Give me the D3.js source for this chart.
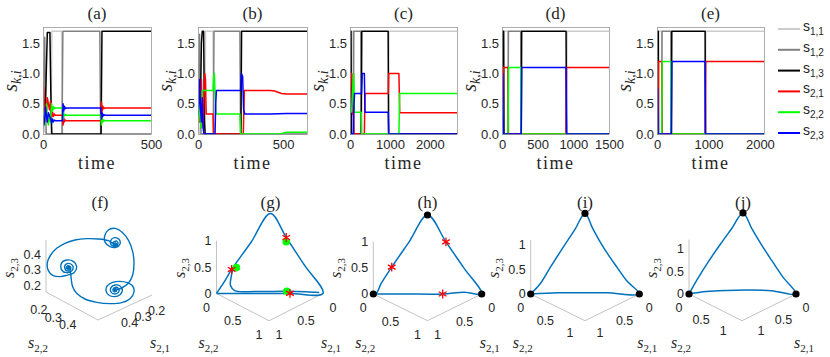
<!DOCTYPE html>
<html>
<head>
<meta charset="utf-8">
<script src="https://cdn.jsdelivr.net/npm/d3@7/dist/d3.min.js"></script>
<style>
  body { margin: 0; background: #fff; }
  svg { display: block; }
  .sans { font-family: "Liberation Sans", Arimo, Arial, sans-serif; }
  .serif { font-family: "Liberation Serif", Tinos, "DejaVu Serif", serif; }
</style>
</head>
<body>
<div id="chart"></div>
<script>
// ---------- top row (a)-(e): [time, value] ----------
const a_s11 = [[0,0.35],[6,0.1],[12,0],[37,0],[41,1.7],[86,1.7],[90,0],[500,0]];
const a_s12 = [[0,0.3],[4,1.2],[8,1.6],[11,0.5],[15,0],[88,0],[92,1.7],[263,1.7],[267,0],[500,0]];
const a_s13 = [[0,0.25],[10,0.2],[15,1.0],[20,1.68],[32,1.68],[38,0.3],[41,0],[269,0],[273,1.7],[500,1.7]];
const a_s21 = [[0,0.87],[4,0.7],[8,0.35],[12,0.2],[16,0.35],[20,0.6],[25,0.5],[30,0.4],[35,0.55],[40,0.28],[44,0.36],[48,0.29],[52,0.33],[58,0.31],[90,0.31],[93,0.15],[96,0.27],[99,0.2],[103,0.23],[108,0.22],[268,0.22],[271,0.53],[274,0.38],[277,0.46],[281,0.42],[286,0.43],[500,0.43]];
const a_s22 = [[0,0.45],[4,0.3],[8,0.15],[12,0.4],[16,0.5],[20,0.25],[25,0.15],[30,0.3],[35,0.2],[40,0.5],[44,0.38],[48,0.45],[52,0.42],[58,0.43],[90,0.43],[93,0.25],[96,0.35],[99,0.3],[103,0.32],[108,0.31],[268,0.31],[271,0.15],[274,0.27],[277,0.2],[281,0.23],[286,0.22],[500,0.22]];
const a_s23 = [[0,0.3],[4,0.15],[8,0.25],[12,0.45],[16,0.3],[20,0.2],[25,0.35],[30,0.3],[35,0.25],[40,0.18],[44,0.25],[48,0.2],[52,0.23],[58,0.22],[90,0.22],[93,0.5],[96,0.38],[99,0.46],[103,0.42],[108,0.43],[268,0.43],[271,0.25],[274,0.35],[277,0.29],[281,0.32],[286,0.31],[500,0.31]];

const b_s11 = [[0,0.3],[8,0.05],[12,0],[40,0],[44,1.7],[88,1.7],[92,0],[640,0]];
const b_s12 = [[0,0.3],[5,1.2],[9,1.65],[14,0.3],[18,0],[90,0],[94,1.7],[246,1.7],[250,0],[640,0]];
const b_s13 = [[0,0.3],[14,0.4],[20,1.5],[25,1.7],[33,1.7],[38,0.2],[42,0],[252,0],[256,1.7],[640,1.7]];
const b_s21 = [[0,0.85],[5,0.6],[10,0.2],[15,0.5],[20,0.9],[25,0.3],[30,0.1],[35,0.6],[40,1.0],[44,0.9],[48,0.33],[88,0.33],[92,0],[266,0],[272,0.72],[424,0.72],[450,0.71],[490,0.67],[522,0.66],[640,0.66]];
const b_s22 = [[0,0.4],[5,0.2],[10,0.7],[15,0.3],[20,0.1],[25,0.72],[88,0.72],[92,0.95],[96,1.0],[101,0.6],[106,0.33],[246,0.33],[250,0],[480,0],[520,0.03],[640,0.03]];
const b_s23 = [[0,0.3],[5,0.5],[10,0.9],[15,0.4],[20,0.2],[25,0.6],[30,0.1],[35,0],[100,0],[104,0.5],[108,0.72],[250,0.72],[255,1.0],[262,0.95],[268,0.4],[275,0.33],[424,0.33],[522,0.34],[640,0.34]];

const c_s11 = [[0,0.3],[10,0],[30,0],[40,1.7],[80,1.7],[90,0],[960,0],[975,1.7],[2680,1.7]];
const c_s12 = [[0,0.3],[5,1.6],[12,0.2],[20,0],[85,0],[95,1.7],[270,1.7],[282,0],[2680,0]];
const c_s13 = [[0,0.3],[8,1.0],[13,1.7],[25,1.7],[35,0],[282,0],[295,1.7],[955,1.7],[968,0],[2680,0]];
const c_s21 = [[0,0.8],[10,1.0],[45,1.0],[60,0.35],[85,0.3],[100,0],[360,0],[375,0.67],[958,0.67],[970,1.0],[1225,1.0],[1245,0.35],[2680,0.35]];
const c_s22 = [[0,0.35],[40,0.37],[80,0.9],[95,1.0],[110,0.36],[280,0.36],[295,0],[1225,0],[1245,0.67],[2680,0.67]];
const c_s23 = [[0,0.6],[5,0.3],[10,0],[85,0],[100,0.5],[115,0.67],[290,0.67],[305,1.0],[360,1.0],[375,0.36],[958,0.36],[970,0],[2680,0]];

const d_s11 = [[0,0.3],[8,0],[25,0],[30,1.7],[85,1.7],[90,0],[905,0],[912,1.7],[1500,1.7]];
const d_s12 = [[0,0.5],[5,1.6],[10,0.2],[15,0],[85,0],[90,1.7],[262,1.7],[268,0],[1500,0]];
const d_s13 = [[0,0.3],[12,1.7],[22,1.7],[28,0],[270,0],[276,1.7],[898,1.7],[905,0],[1500,0]];
const d_s21 = [[0,0.5],[8,0.1],[15,0.9],[22,1.1],[85,1.1],[90,0],[898,0],[905,1.1],[1500,1.1]];
const d_s22 = [[0,0.2],[8,0.5],[15,0],[85,0],[92,1.1],[262,1.1],[268,0],[1500,0]];
const d_s23 = [[0,0.35],[5,0.2],[10,1.0],[15,0.3],[20,0],[270,0],[276,1.1],[898,1.1],[905,0],[1500,0]];

const e_s11 = [[0,0.3],[8,0],[30,0],[36,1.7],[90,1.7],[96,0],[940,0],[948,1.7],[2080,1.7]];
const e_s12 = [[0,0.4],[6,1.6],[12,0.2],[18,0],[92,0],[98,1.7],[268,1.7],[275,0],[2080,0]];
const e_s13 = [[0,0.3],[14,1.7],[24,1.7],[30,0],[280,0],[288,1.7],[935,1.7],[942,0],[2080,0]];
const e_s21 = [[0,0.6],[8,0.8],[14,0.2],[20,0],[30,1.2],[92,1.2],[98,0],[940,0],[948,1.2],[2080,1.2]];
const e_s22 = [[0,0.3],[10,0.1],[20,0],[92,0],[100,1.2],[268,1.2],[275,0],[2080,0]];
const e_s23 = [[0,0.75],[6,0.3],[12,0.75],[18,0.1],[24,0],[280,0],[288,1.2],[935,1.2],[942,0],[2080,0]];

const topTitles = ["(a)", "(b)", "(c)", "(d)", "(e)"];
const timeMax = [500, 640, 2680, 1500, 2080];
const timeTicks = [[0, 500], [0, 500], [0, 1000, 2000], [0, 500, 1000, 1500], [0, 1000, 2000]];
const valueTicks = [0, 0.5, 1, 1.5];
const legendSubs = ["1,1", "1,2", "1,3", "2,1", "2,2", "2,3"];

// ---------- bottom row (f)-(j): [s21, s22, s23] ----------
// (f) trajectory digitised in the projected view plane of the panel
const f_trajectory = [[118,147],[122,160],[124,180],[128,200],[140,220],[165,237],[200,247],[240,251],[275,248],[300,236],[312,216],[308,198],[292,188],[270,184],[248,187],[232,197],[228,212],[236,225],[253,230],[270,224],[277,210],[270,198],[255,195],[243,203],[243,216],[254,222],[266,216],[265,205],[256,202],[249,208],[252,215],[259,213],[258,208],[255,210],
  [275,204],[295,190],[308,165],[312,130],[308,95],[296,62],[278,38],[255,25],[235,30],[224,48],[226,68],[240,80],[258,82],[270,72],[267,58],[253,53],[242,62],[244,75],[256,78],[264,70],[259,63],[250,67],[252,74],[258,74],[257,70],[255,73],
  [235,62],[205,57],[170,56],[135,60],[105,70],[80,85],[62,105],[52,128],[55,152],[68,166],[90,170],[110,166],[132,158],[140,140],[130,124],[110,120],[94,130],[95,150],[110,158],[126,152],[128,137],[115,130],[104,138],[108,151],[119,151],[122,142],[114,137],[109,144],[116,147],[117,142],[115,143]];
const f_centers = [[255,210],[255,73],[115,143]];

const g_cycle = [[1,0,0],[0.66,0.34,0],[0.31,0.69,0],[0,1,0],[0,0.65,0.35],[0,0.3,0.7],[0,0,1],[0.36,0,0.64],[0.72,0,0.31],[0.86,0,0.14],[1,0,0]];
const g_inner = [[0.71,0.01,0.31],[0.75,0.02,0.18],[0.79,0.05,0.07],[0.8,0.14,0.02],[0.62,0.35,0.02],[0.33,0.65,0.03],[0.15,0.83,0.02],[0.03,0.96,0.01]];
const g_stars = [[0.72,0,0.31],[0,0.3,0.7],[0.31,0.69,0]];
const g_green = [[0.66,0.03,0.33],[0.03,0.33,0.65],[0.33,0.65,0.03]];

const h_cycle = [[1,0,0],[0.7,0.3,0],[0.36,0.64,0],[0.15,0.83,0.025],[0,1,0],[0,0.67,0.33],[0,0.34,0.66],[0,0,1],[0.33,0,0.67],[0.66,0,0.34],[0.86,0,0.12],[0.95,0.02,0.02],[1,0,0]];
const h_stars = [[0.66,0,0.34],[0,0.34,0.66],[0.36,0.64,0]];
const h_vertices = [[1,0,0],[0,1,0],[0,0,1]];

const i_cycle = [[1.1,0,0],[0.8,0.25,0],[0.55,0.5,0],[0.3,0.75,0],[0,1.1,0],[0,0.85,0.14],[0,0.65,0.32],[0,0.47,0.49],[0,0.3,0.68],[0,0.15,0.88],[0,0,1.1],[0.2,0,0.88],[0.45,0,0.62],[0.7,0,0.35],[0.9,0,0.12],[1.1,0,0]];
const i_vertices = [[1.1,0,0],[0,1.1,0],[0,0,1.1]];

const j_cycle = [[1.2,0,0],[0.95,0.14,0],[0.7,0.34,0],[0.45,0.57,0],[0.2,0.85,0],[0,1.2,0],[0,0.9,0.23],[0,0.65,0.47],[0,0.42,0.7],[0,0.2,0.95],[0,0,1.2],[0.25,0,0.98],[0.5,0,0.76],[0.75,0,0.52],[1.0,0,0.25],[1.2,0,0]];
const j_vertices = [[1.2,0,0],[0,1.2,0],[0,0,1.2]];

const bottomTitles = ["(f)", "(g)", "(h)", "(i)", "(j)"];

// ---------- drawing ----------
const W = 830, H = 357;
const INK = "#262626";
const lineColors = ["#cccccc", "#808080", "#000000", "#ff0000", "#00ff00", "#0000ff"];
const TRAJ = "#0072BD";

const svg = d3.select("#chart").append("svg").attr("width", W).attr("height", H);

function mathLabel(sel, x, y, base, sub, o) {
  const t = sel.append("text")
    .attr("class", o.cls || "serif")
    .attr("x", x).attr("y", y)
    .attr("text-anchor", o.anchor || "middle")
    .attr("fill", INK);
  if (o.rotate) t.attr("transform", `rotate(-90,${x},${y})`);
  t.append("tspan").style("font-size", o.size + "px").style("font-style", o.italic ? "italic" : "normal").text(base);
  t.append("tspan").style("font-size", o.subSize + "px").attr("dy", o.subDy)
    .style("font-style", o.subItalic ? "italic" : "normal").text(sub);
  return t;
}

// top row
const topSeries = [
  [a_s11, a_s12, a_s13, a_s21, a_s22, a_s23],
  [b_s11, b_s12, b_s13, b_s21, b_s22, b_s23],
  [c_s11, c_s12, c_s13, c_s21, c_s22, c_s23],
  [d_s11, d_s12, d_s13, d_s21, d_s22, d_s23],
  [e_s11, e_s12, e_s13, e_s21, e_s22, e_s23]
];
const boxLeft = [43, 198, 350, 502, 657];
const boxWidth = [108, 109, 107, 107, 107];
const boxTop = 27, boxBottom = 134;

topSeries.forEach((series, k) => {
  const x = d3.scaleLinear().domain([0, timeMax[k]]).range([boxLeft[k], boxLeft[k] + boxWidth[k]]);
  const y = d3.scaleLinear().domain([0, 1.77]).range([boxBottom, boxTop]);
  const g = svg.append("g");

  g.append("clipPath").attr("id", "clip" + k)
    .append("rect").attr("x", boxLeft[k]).attr("y", boxTop - 1)
    .attr("width", boxWidth[k]).attr("height", boxBottom - boxTop + 2);

  const line = d3.line().x(d => x(d[0])).y(d => y(d[1]));
  series.forEach((s, i) => {
    g.append("path").datum(s)
      .attr("clip-path", `url(#clip${k})`)
      .attr("d", line)
      .attr("fill", "none")
      .attr("stroke", lineColors[i])
      .attr("stroke-width", 1.5)
      .attr("stroke-linejoin", "round");
  });

  // axes box
  g.append("rect")
    .attr("x", boxLeft[k] + 0.5).attr("y", boxTop + 0.5)
    .attr("width", boxWidth[k]).attr("height", boxBottom - boxTop)
    .attr("fill", "none").attr("stroke", "#999").attr("stroke-width", 0.8);

  const xa = g.append("g").attr("transform", `translate(0,${boxBottom})`)
    .call(d3.axisBottom(x).tickValues(timeTicks[k]).tickSize(0).tickPadding(6).tickFormat(d3.format("d")));
  const ya = g.append("g").attr("transform", `translate(${boxLeft[k]},0)`)
    .call(d3.axisLeft(y).tickValues(valueTicks).tickSize(0).tickPadding(3));
  [xa, ya].forEach(a => {
    a.attr("font-family", null).attr("font-size", null);
    a.select(".domain").remove();
    a.selectAll("text").attr("class", "sans").style("font-size", "13px").attr("fill", INK);
  });

  g.append("text").attr("class", "serif")
    .attr("x", boxLeft[k] + boxWidth[k] / 2).attr("y", 19)
    .attr("text-anchor", "middle").style("font-size", "17px")
    .attr("fill", INK).text(topTitles[k]);

  g.append("text").attr("class", "serif")
    .attr("x", boxLeft[k] + boxWidth[k] / 2).attr("y", 169)
    .attr("text-anchor", "middle").style("font-size", "18px")
    .style("letter-spacing", "1.5px").attr("fill", INK).text("time");

  mathLabel(g, boxLeft[k] - 26, 81, "s", "k,i",
    { rotate: true, size: 20, italic: true, subSize: 14, subItalic: true, subDy: 4 });
});

// legend
const legend = svg.append("g");
legendSubs.forEach((sub, i) => {
  const yy = 29 + i * 20.8;
  legend.append("line").attr("x1", 778).attr("x2", 800).attr("y1", yy).attr("y2", yy)
    .attr("stroke", lineColors[i]).attr("stroke-width", 2);
  mathLabel(legend, 803, yy + 2, "s", sub,
    { cls: "sans", anchor: "start", size: 14, italic: false, subSize: 10, subDy: 4 });
});

// bottom row: 3-D views
const bottomPanels = [
  { back: [100, 267], ex: [-54, 25], ey: [52, 28], ez: 52, lim21: [0.16, 0.56], lim22: [0.18, 0.54], lim23: [0.16, 0.49], ticks: [0.2, 0.3, 0.4], off22: [-10, 16], off21: [10, 13] },
  { back: [270.5, 266], ex: [-54, 27.4], ey: [52.5, 27.4], ez: 52.5, lim21: [0, 1], lim22: [0, 1], lim23: [0, 1], ticks: [0, 0.5, 1], off22: [-10, 14], off21: [10, 14] },
  { back: [427.5, 267.3], ex: [-54.2, 26.7], ey: [54.2, 26.7], ez: 52.3, lim21: [0, 1], lim22: [0, 1], lim23: [0, 1], ticks: [0, 0.5, 1], off22: [-10, 14], off21: [10, 14] },
  { back: [585, 267.3], ex: [-54.3, 26.7], ey: [54.3, 26.7], ez: 53.9, lim21: [0, 1.1], lim22: [0, 1.1], lim23: [0, 1.1], ticks: [0, 0.5, 1], off22: [-10, 14], off21: [10, 14] },
  { back: [743, 267.3], ex: [-54, 26.7], ey: [53, 26.7], ez: 54.4, lim21: [0, 1.2], lim22: [0, 1.2], lim23: [0, 1.2], ticks: [0, 0.5, 1], off22: [-10, 14], off21: [10, 14] }
];

function projector(p) {
  const sx = d3.scaleLinear().domain(p.lim21).range([0, 1]);
  const sy = d3.scaleLinear().domain(p.lim22).range([0, 1]);
  const sz = d3.scaleLinear().domain(p.lim23).range([0, p.ez]);
  return d => [
    p.back[0] + sx(d[0]) * p.ex[0] + sy(d[1]) * p.ey[0],
    p.back[1] + sx(d[0]) * p.ex[1] + sy(d[1]) * p.ey[1] - sz(d[2])
  ];
}

const star = d3.symbol().type(d3.symbolAsterisk).size(55);

bottomPanels.forEach((p, k) => {
  const g = svg.append("g");
  const P = projector(p);
  const [a0, a1] = p.lim21, [b0, b1] = p.lim22, [c0, c1] = p.lim23;

  // axis lines
  const leftC = P([a1, b0, c0]), frontC = P([a1, b1, c0]), rightC = P([a0, b1, c0]), topC = P([a1, b0, c1]);
  g.append("path")
    .attr("d", d3.line()([topC, leftC, frontC, rightC]))
    .attr("fill", "none").attr("stroke", "#9a9a9a").attr("stroke-width", 0.6);

  // ticks
  const tickText = (x, y, v, anchor) => g.append("text").attr("class", "sans")
    .attr("x", x).attr("y", y).attr("dy", "0.35em").attr("text-anchor", anchor)
    .style("font-size", "12.5px").attr("fill", INK).text(v);
  p.ticks.forEach(v => {
    const pz = P([a1, b0, v]);
    tickText(pz[0] - 5, pz[1], v, "end");
    const py = P([a1, v, c0]);
    tickText(py[0] + p.off22[0], py[1] + p.off22[1], v, "middle");
    const px = P([v, b1, c0]);
    tickText(px[0] + p.off21[0], px[1] + p.off21[1], v, "middle");
  });

  // axis labels
  const lab = { size: 16, italic: true, subSize: 11, subItalic: false, subDy: 4 };
  mathLabel(g, leftC[0] - 8, 348, "s", "2,2", lab);
  mathLabel(g, rightC[0] + 8, 348, "s", "2,1", lab);
  mathLabel(g, leftC[0] - 32, 268, "s", "2,3", Object.assign({ rotate: true }, lab));

  g.append("text").attr("class", "serif").attr("x", p.back[0]).attr("y", 208)
    .attr("text-anchor", "middle").style("font-size", "17px")
    .attr("fill", INK).text(bottomTitles[k]);

  const curve = d3.line().x(d => P(d)[0]).y(d => P(d)[1]).curve(d3.curveCatmullRom.alpha(0.5));
  const drawPath = (data) => g.append("path").datum(data).attr("d", curve)
    .attr("fill", "none").attr("stroke", TRAJ).attr("stroke-width", 1.5).attr("stroke-linejoin", "round");
  const drawDots = (data, color, r) => g.selectAll(null).data(data).enter().append("circle")
    .attr("cx", d => P(d)[0]).attr("cy", d => P(d)[1]).attr("r", r).attr("fill", color);
  const drawStars = (data) => g.selectAll(null).data(data).enter().append("path")
    .attr("transform", d => `translate(${P(d)[0]},${P(d)[1]})`).attr("d", star)
    .attr("fill", "none").attr("stroke", "#ff0000").attr("stroke-width", 1.3);

  if (k === 0) {
    const u = d3.scaleLinear().domain([0, 390]).range([30, 160]);
    const v = d3.scaleLinear().domain([0, 330]).range([220, 330]);
    g.append("path").datum(f_trajectory)
      .attr("d", d3.line().x(d => u(d[0])).y(d => v(d[1])).curve(d3.curveCatmullRom.alpha(0.5)))
      .attr("fill", "none").attr("stroke", TRAJ).attr("stroke-width", 1.4);
    g.selectAll(null).data(f_centers).enter().append("circle")
      .attr("cx", d => u(d[0])).attr("cy", d => v(d[1])).attr("r", 2.2).attr("fill", TRAJ);
  } else if (k === 1) {
    drawPath(g_cycle); drawPath(g_inner);
    drawDots(g_green, "#00ff00", 3.8);
    drawStars(g_stars);
  } else if (k === 2) {
    drawPath(h_cycle);
    drawStars(h_stars);
    drawDots(h_vertices, "#000", 3.6);
  } else if (k === 3) {
    drawPath(i_cycle);
    drawDots(i_vertices, "#000", 3.6);
  } else {
    drawPath(j_cycle);
    drawDots(j_vertices, "#000", 3.6);
  }
});
</script>
</body>
</html>
